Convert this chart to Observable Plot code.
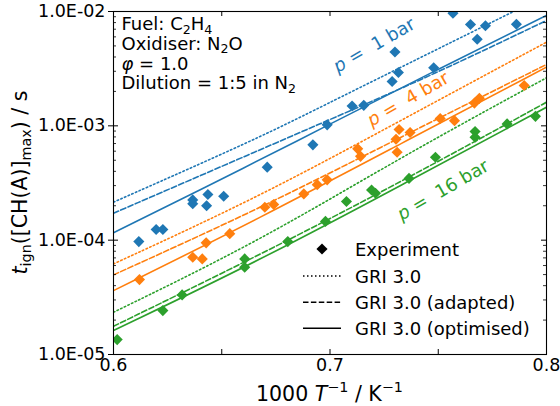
<!DOCTYPE html>
<html><head><meta charset="utf-8">
<script src="https://cdn.jsdelivr.net/npm/d3@7"></script>
<script src="https://cdn.jsdelivr.net/npm/@observablehq/plot@0.6"></script>
<style>body{margin:0;background:#fff}#chart{width:560px;height:406px}</style>
</head><body><div id="chart"></div>
<script>
// ---------- data ----------
const pressures = ["1 bar", "4 bar", "16 bar"];
const colors = ["#1f77b4", "#ff7f0e", "#2ca02c"];
const models = ["GRI 3.0", "GRI 3.0 (adapted)", "GRI 3.0 (optimised)"];

const yTickValues = [1e-5, 1e-4, 1e-3, 1e-2];
const yTickLabels = ["1.0E-05", "1.0E-04", "1.0E-03", "1.0E-02"];
const xTickValues = [0.6, 0.7, 0.8];
const xTickLabels = ["0.6", "0.7", "0.8"];
const xMinorValues = [0.6, 0.65, 0.7, 0.75, 0.8];

// experiments (1000/T, t_ign in s)
const exp1x = [0.6117,0.6197,0.6228,0.6366,0.6366,0.6436,0.6430,0.6509,0.6710,0.6921,0.6987,0.7102,0.7156,0.7287,0.7316,0.7300,0.7479,0.7568,0.7649,0.7680,0.7718,0.7861];
const exp1y = [9.72e-5,1.24e-4,1.24e-4,2.25e-4,2.08e-4,2.51e-4,2.00e-4,2.42e-4,4.35e-4,6.82e-4,1.02e-3,1.49e-3,1.51e-3,2.44e-3,2.93e-3,4.42e-3,3.22e-3,9.66e-3,7.69e-3,5.71e-3,7.50e-3,7.74e-3];
const exp4x = [0.6120,0.6366,0.6410,0.6428,0.6537,0.6699,0.6740,0.6879,0.6941,0.6987,0.7128,0.7141,0.7310,0.7319,0.7305,0.7370,0.7509,0.7575,0.7667,0.7690,0.7897];
const exp4y = [4.52e-5,7.09e-5,6.86e-5,9.47e-5,1.14e-4,1.94e-4,2.05e-4,2.54e-4,3.06e-4,3.37e-4,6.29e-4,5.41e-4,5.87e-4,9.28e-4,7.63e-4,8.74e-4,1.16e-3,1.11e-3,1.58e-3,1.74e-3,2.25e-3];
const exp16x = [0.6017,0.6228,0.6317,0.6606,0.6606,0.6805,0.6979,0.7076,0.7192,0.7210,0.7365,0.7487,0.7670,0.7670,0.7818,0.7949];
const exp16y = [1.35e-5,2.42e-5,3.32e-5,6.86e-5,5.79e-5,9.72e-5,1.46e-4,2.18e-4,2.75e-4,2.57e-4,3.47e-4,5.31e-4,8.91e-4,7.95e-4,1.04e-3,1.21e-3];

// model curves
const gri1x = [0.6, 0.6679, 0.6956, 0.7857];
const gri1y = [2.15e-4, 7.95e-4, 1.46e-3, 1.02e-2];
const adp1x = [0.6, 0.6679, 0.7002, 0.7478, 0.8];
const adp1y = [1.72e-4, 6.20e-4, 1.14e-3, 2.81e-3, 8.34e-3];
const opt1x = [0.6, 0.6656, 0.6956, 0.7478, 0.8];
const opt1y = [1.16e-4, 4.80e-4, 9.41e-4, 2.99e-3, 9.23e-3];

const curveX = [0.6, 0.6679, 0.7326, 0.8];
const gri4y = [6.20e-5, 2.42e-4, 1.112e-3, 5.39e-3];
const adp4y = [4.97e-5, 1.90e-4, 7.95e-4, 3.44e-3];
const opt4y = [3.62e-5, 1.567e-4, 6.96e-4, 3.26e-3];
const gri16y = [2.34e-5, 9.92e-5, 5.31e-4, 2.63e-3];
const adp16y = [1.765e-5, 7.48e-5, 3.21e-4, 1.609e-3];
const opt16y = [1.62e-5, 6.72e-5, 3.00e-4, 1.455e-3];

// pressure annotations (data coords)
const labelX = [0.7206, 0.7363, 0.7524];
const labelY = [5.04e-3, 1.70e-3, 2.72e-4];

// ---------- build ----------
const zip = (xs, ys) => xs.map((x, i) => ({x, y: ys[i]}));
const expSets = [zip(exp1x, exp1y), zip(exp4x, exp4y), zip(exp16x, exp16y)];
const modelSets = [
  [zip(gri1x, gri1y), zip(adp1x, adp1y), zip(opt1x, opt1y)],
  [zip(curveX, gri4y), zip(curveX, adp4y), zip(curveX, opt4y)],
  [zip(curveX, gri16y), zip(curveX, adp16y), zip(curveX, opt16y)]
];
const dashes = ["1.5,2.5", "5.5,2.4", null];

const W = 560, H = 406, ML = 113, MR = 14, MT = 11, MB = 52;
const PW = W - ML - MR, PH = H - MT - MB;
const yMinor = [];
for (const d of [1e-5, 1e-4, 1e-3]) for (let k = 2; k <= 9; k++) yMinor.push(k * d);

const marks = [];
modelSets.forEach((set, p) => set.forEach((rows, m) => {
  marks.push(Plot.line(rows, {x: "x", y: "y", stroke: colors[p], strokeWidth: 1.6,
    strokeDasharray: dashes[m], curve: "basis", clip: true}));
}));
expSets.forEach((rows, p) => {
  marks.push(Plot.dot(rows, {x: "x", y: "y", fill: colors[p], symbol: "diamond2", r: 5, clip: true}));
});
marks.push(
  Plot.tickY(yTickValues, {insetLeft: -5, insetRight: PW - 5, stroke: "black", strokeWidth: 1}),
  Plot.tickY(yMinor, {insetRight: PW - 3, stroke: "black", strokeWidth: 0.8}),
  Plot.tickY(yTickValues, {insetLeft: PW - 5, stroke: "black", strokeWidth: 1}),
  Plot.tickY(yMinor, {insetLeft: PW - 3, stroke: "black", strokeWidth: 0.8}),
  Plot.tickX(xMinorValues, {insetTop: PH - 5, stroke: "black", strokeWidth: 1}),
  Plot.tickX(xMinorValues, {insetBottom: PH - 5, stroke: "black", strokeWidth: 1}),
  Plot.frame({stroke: "black", strokeWidth: 1.1}),
  Plot.axisX(xTickValues, {tickSize: 0, tickPadding: 4, label: null, fontSize: 17.5,
    tickFormat: d => xTickLabels[xTickValues.findIndex(v => Math.abs(v - d) < 1e-9)]}),
  Plot.axisY(yTickValues, {tickSize: 0, tickPadding: 8, label: null, fontSize: 17.5,
    tickFormat: d => yTickLabels[yTickValues.findIndex(v => Math.abs(v / d - 1) < 1e-9)]})
);

const chart = Plot.plot({
  width: W, height: H, marginLeft: ML, marginRight: MR, marginTop: MT, marginBottom: MB,
  x: {domain: [0.6, 0.8]},
  y: {type: "log", domain: [1e-5, 1e-2]},
  style: {fontFamily: "DejaVu Sans", fontSize: "17.5px", color: "black", background: "white", overflow: "visible"},
  marks
});
document.getElementById("chart").appendChild(chart);

// ---------- rich text overlays ----------
const svg = d3.select(chart);
const g = svg.append("g").attr("font-family", "DejaVu Sans").attr("fill", "black");
function rich(parent, x, y, parts, size, opts = {}) {
  const t = parent.append("text").attr("x", x).attr("y", y).attr("font-size", size)
    .attr("text-anchor", opts.anchor || "start")
    .style("white-space", "pre");
  if (opts.transform) t.attr("transform", opts.transform);
  if (opts.fill) t.attr("fill", opts.fill);
  let shift = 0;
  for (const [s, k] of parts) {
    let target = 0, fs = size, st = "normal";
    if (k === "sub") { target = 0.2 * size; fs = 0.7 * size; }
    else if (k === "sup") { target = -0.42 * size; fs = 0.7 * size; }
    else if (k === "i") st = "italic";
    const ts = t.append("tspan").attr("font-size", fs).attr("font-style", st).text(s);
    if (target !== shift) { ts.attr("dy", target - shift); shift = target; }
  }
  return t;
}

// axis labels
rich(g, ML + PW / 2, 401, [["1000 ", "n"], ["T", "i"], ["\u22121", "sup"], [" / K", "n"], ["\u22121", "sup"]], 20.5, {anchor: "middle"});
rich(g, 0, 0, [["t", "i"], ["ign", "sub"], ["([CH(A)]", "n"], ["max", "sub"], [") / s", "n"]], 20.5,
  {anchor: "middle", transform: `translate(27,${MT + PH / 2}) rotate(-90)`});

// info box
const infoLines = [
  [["Fuel: C", "n"], ["2", "sub"], ["H", "n"], ["4", "sub"]],
  [["Oxidiser: N", "n"], ["2", "sub"], ["O", "n"]],
  [["\u03c6", "i"], [" = 1.0", "n"]],
  [["Dilution = 1:5 in N", "n"], ["2", "sub"]]
];
infoLines.forEach((parts, i) => rich(g, 121.5, 30 + i * 19.8, parts, 18));

// pressure labels
const xs = chart.scale("x"), ys = chart.scale("y");
pressures.forEach((p, i) => {
  const px = xs.apply(labelX[i]), py = ys.apply(labelY[i]);
  rich(g, 0, 6, [["p", "i"], [" =  " + p, "n"]], 18,
    {anchor: "middle", fill: colors[i], transform: `translate(${px},${py}) rotate(-30)`});
});

// legend
const lg = g.append("g");
lg.append("path").attr("d", d3.symbol(d3.symbolDiamond2, 5 * 5 * Math.PI)())
  .attr("transform", "translate(322,249)").attr("fill", "black");
const legendY = [249, 276, 302.3, 328.3];
models.forEach((m, i) => {
  lg.append("line").attr("x1", 303).attr("x2", 341).attr("y1", legendY[i + 1]).attr("y2", legendY[i + 1])
    .attr("stroke", "black").attr("stroke-width", 1.6).attr("stroke-dasharray", dashes[i]);
});
["Experiment", ...models].forEach((s, i) => rich(lg, 355, legendY[i] + 6.5, [[s, "n"]], 18));
</script>
</body></html>
